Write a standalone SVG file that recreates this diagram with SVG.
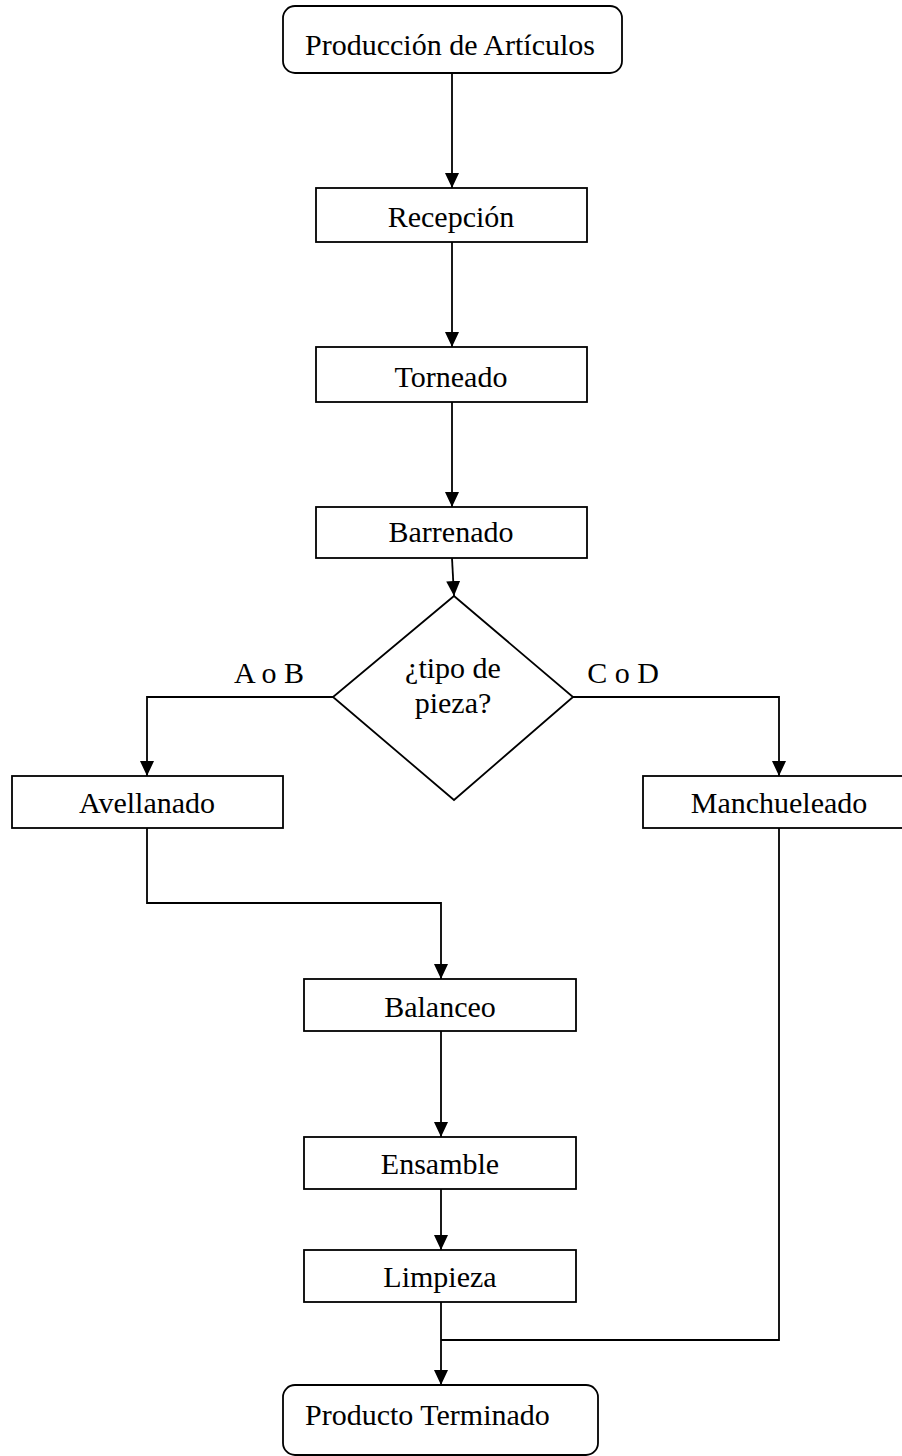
<svg xmlns="http://www.w3.org/2000/svg" width="902" height="1456" viewBox="0 0 902 1456">
<style>
.box{fill:#fff;stroke:#000;stroke-width:1.8}
.t{font-family:"Liberation Serif","Times New Roman",serif;font-size:30px;fill:#000}
.c{text-anchor:middle}
.ln{fill:none;stroke:#000;stroke-width:1.8}
</style>
<defs>
<marker id="ah" markerUnits="userSpaceOnUse" markerWidth="16" markerHeight="16" refX="15" refY="8" orient="auto" viewBox="0 0 16 16">
<path d="M0,1 L15,8 L0,15 z" fill="#000"/>
</marker>
</defs>
<rect width="902" height="1456" fill="#fff"/>
<g id="connectors">
<path class="ln" d="M452,73 V188" marker-end="url(#ah)"/>
<path class="ln" d="M452,242 V347" marker-end="url(#ah)"/>
<path class="ln" d="M452,402 V507" marker-end="url(#ah)"/>
<path class="ln" d="M452,558 L454,596" marker-end="url(#ah)"/>
<path class="ln" d="M333,697 H147 V776" marker-end="url(#ah)"/>
<path class="ln" d="M573,697 H779 V776" marker-end="url(#ah)"/>
<path class="ln" d="M147,828 V903 H441 V979" marker-end="url(#ah)"/>
<path class="ln" d="M441,1031 V1137" marker-end="url(#ah)"/>
<path class="ln" d="M441,1189 V1250" marker-end="url(#ah)"/>
<path class="ln" d="M441,1302 V1385" marker-end="url(#ah)"/>
<path class="ln" d="M779,828 V1340 H441"/>
</g>
<g id="n-produccion">
<rect class="box" x="283" y="6" width="339" height="67" rx="12"/>
<text class="t c" x="450" y="55">Producción de Artículos</text>
</g>
<g id="n-recepcion">
<rect class="box" x="316" y="188" width="271" height="54"/>
<text class="t c" x="451" y="227">Recepción</text>
</g>
<g id="n-torneado">
<rect class="box" x="316" y="347" width="271" height="55"/>
<text class="t c" x="451" y="387">Torneado</text>
</g>
<g id="n-barrenado">
<rect class="box" x="316" y="507" width="271" height="51"/>
<text class="t c" x="451" y="542">Barrenado</text>
</g>
<g id="n-tipo">
<polygon class="box" points="454,596 573,697 454,800 333,697"/>
<text class="t c" x="453" y="678">¿tipo de</text>
<text class="t c" x="453" y="713">pieza?</text>
</g>
<g id="labels">
<text class="t c" x="269" y="683">A o B</text>
<text class="t c" x="623" y="683">C o D</text>
</g>
<g id="n-avellanado">
<rect class="box" x="12" y="776" width="271" height="52"/>
<text class="t c" x="147" y="813">Avellanado</text>
</g>
<g id="n-manchueleado">
<rect class="box" x="643" y="776" width="272" height="52"/>
<text class="t c" x="779" y="813">Manchueleado</text>
</g>
<g id="n-balanceo">
<rect class="box" x="304" y="979" width="272" height="52"/>
<text class="t c" x="440" y="1017">Balanceo</text>
</g>
<g id="n-ensamble">
<rect class="box" x="304" y="1137" width="272" height="52"/>
<text class="t c" x="440" y="1174">Ensamble</text>
</g>
<g id="n-limpieza">
<rect class="box" x="304" y="1250" width="272" height="52"/>
<text class="t c" x="440" y="1287">Limpieza</text>
</g>
<g id="n-terminado">
<rect class="box" x="283" y="1385" width="315" height="70" rx="12"/>
<text class="t" x="305" y="1425">Producto Terminado</text>
</g>
</svg>
